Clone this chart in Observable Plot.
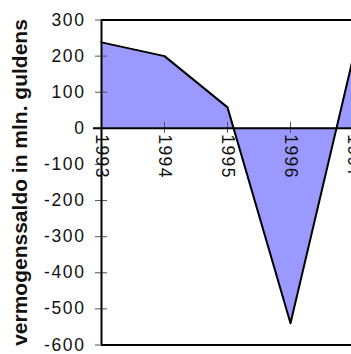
<!DOCTYPE html>
<html>
<head>
<meta charset="utf-8">
<script src="https://cdn.jsdelivr.net/npm/d3@7"></script>
<script src="https://cdn.jsdelivr.net/npm/@observablehq/plot@0.6"></script>
<style>
  html, body { margin: 0; padding: 0; background: #fff; overflow: hidden; }
  .ylab text { letter-spacing: 1.6px; }
  .xlab text { letter-spacing: 1.4px; }
</style>
</head>
<body>
<div id="chart"></div>
<script>
const years = [1993, 1994, 1995, 1996, 1997];
const saldo = [238, 200, 58, -540, 200];
const yTicks = [300, 200, 100, 0, -100, -200, -300, -400, -500, -600];
const yTitle = "vermogenssaldo in mln. guldens";

const data = years.map((y, i) => ({year: y, value: saldo[i]}));

const chart = Plot.plot({
  width: 420,
  height: 354,
  marginLeft: 101,
  marginRight: 67,
  marginTop: 19.5,
  marginBottom: 9.5,
  style: {fontFamily: "'Liberation Sans', Arial, sans-serif", fontSize: "17px", maxWidth: "none", overflow: "visible", background: "#fff"},
  x: {type: "linear", domain: [1993, 1997], axis: null},
  y: {domain: [-600, 300], axis: null},
  marks: [
    Plot.areaY(data, {x: "year", y: "value", fill: "#9999FF"}),
    // y ticks crossing axis
    Plot.axisY({ticks: yTicks, tickSize: 12, dx: 6, text: null, label: null, stroke: "#555", strokeWidth: 1}),
    // y tick labels
    Plot.axisY({ticks: yTicks, tickSize: 0, tickPadding: 16, label: null, tickFormat: d => String(d), fill: "#111", fontSize: 17.5, className: "ylab"}),
    // x ticks on zero line
    Plot.ruleX(years, {x: d => d, y1: 0, y2: 0, insetTop: -6, insetBottom: -5, stroke: "#555", strokeWidth: 1}),
    // frame lines
    Plot.ruleY([300, -600], {stroke: "#000", strokeWidth: 2}),
    Plot.ruleY([0], {stroke: "#000", strokeWidth: 2, insetLeft: -8}),
    Plot.ruleX([1993], {y1: -600, y2: 300, stroke: "#000", strokeWidth: 2}),
    Plot.line(data, {x: "year", y: "value", stroke: "#000", strokeWidth: 2}),
    // x labels
    Plot.text(years, {x: d => d, y: 0, text: d => String(d), rotate: 90, textAnchor: "start", dy: 6, fontSize: 17.5, fill: "#111", className: "xlab"}),
    // y title
    Plot.text([yTitle], {frameAnchor: "left", text: d => d, rotate: -90, textAnchor: "middle", dx: -81, fontSize: 21, fontWeight: "bold", fill: "#111"})
  ]
});
document.getElementById("chart").appendChild(chart);
</script>
</body>
</html>
